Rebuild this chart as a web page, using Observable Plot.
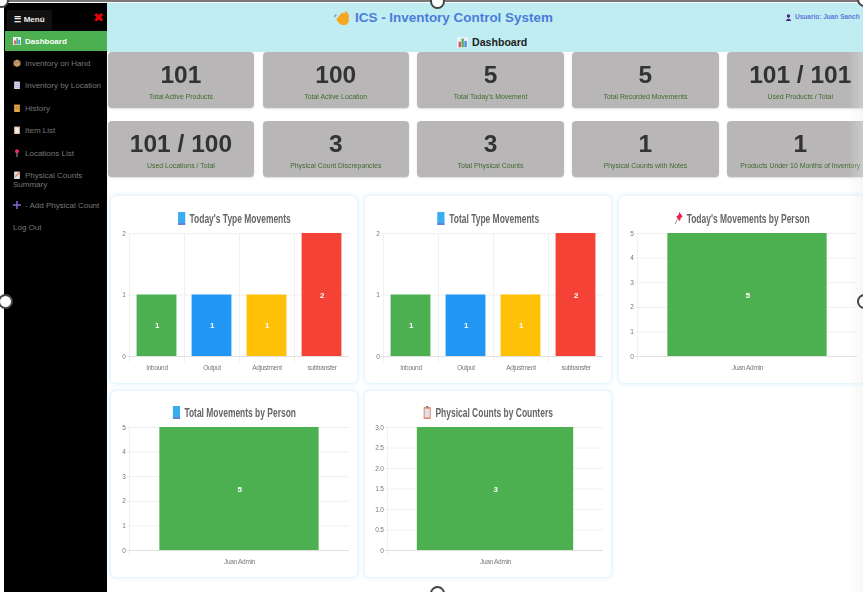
<!DOCTYPE html>
<html><head><meta charset="utf-8">
<script src="https://cdn.jsdelivr.net/npm/d3@7"></script>
<script src="https://cdn.jsdelivr.net/npm/@observablehq/plot@0.6"></script>
<style>
html,body{margin:0;padding:0;background:#fff;width:863px;height:592px;overflow:hidden;font-family:"Liberation Sans",Arial,sans-serif}
#app{position:relative;width:863px;height:592px;overflow:hidden;filter:blur(0.35px)}
#app>*{position:absolute}
#app>div>svg{display:block}
#app>.item>svg{display:inline-block;vertical-align:-1px;margin-right:4px}
.tile{background:#b8b6b6;border-radius:4px;box-shadow:0 1px 2px #ddd;width:146.5px;height:56px;text-align:center}
.tile .n{position:absolute;left:0;right:0;top:9px;font-size:24.5px;line-height:28px;font-weight:700;color:#333}
.tile .l{position:absolute;left:0;right:0;top:40px;font-size:6.9px;line-height:9px;color:#3f6b30;white-space:nowrap}
.card{background:#fff;border-radius:5px;box-shadow:0 0 4px 1px #d6eefb;width:246px}
.card>svg{position:absolute;left:0;top:0;display:block}
.card svg text{letter-spacing:-0.3px}
.ctitle{position:absolute;left:0;right:0;text-align:center;font:700 13px/14px "Liberation Sans",sans-serif;color:#666;white-space:nowrap;transform:scaleX(.65);transform-origin:center}
.ctitle svg{display:inline-block;vertical-align:-2px;margin-right:6px}
.item{position:absolute;left:13px;width:92px;font-size:8px;line-height:9px;color:#777}
.handle{width:11px;height:11px;border-radius:50%;background:#fff;border:2px solid #444;box-sizing:content-box}
</style></head>
<body><div id="app"></div>
<script>
// ---- data ----
const moveTypes = ["Inbound", "Output", "Adjustment", "subtransfer"];
const todayTypeCounts = [1, 1, 1, 2];
const totalTypeCounts = [1, 1, 1, 2];
const typeColors = ["#4CAF50", "#2196F3", "#FFC107", "#F44336"];
const persons = ["Juan Admin"];
const todayByPerson = [5];
const totalByPerson = [5];
const countsByCounter = [3];
const tileValues = ["101","100","5","5","101 / 101","101 / 100","3","3","1","1"];
const tileLabels = ["Total Active Products","Total Active Location","Total Today's Movement","Total Recorded Movements","Used Products / Total","Used Locations / Total","Physical Count Discrepancies","Total Physical Counts","Physical Counts with Notes","Products Under 10 Months of Inventory"];
const menuItems = ["Inventory on Hand","Inventory by Location","History","Item List","Locations List","Physical Counts Summary","- Add Physical Count","Log Out"];
const menuIcons = ["box","doc","scroll","list","loc","note","plus",null];
const menuTops = [59,81,104,126,149,171,201,223];

const app = document.getElementById("app");
function el(cls, css, html){
  const d = document.createElement("div");
  if (cls) d.className = cls;
  d.style.cssText = css;
  if (html != null) d.innerHTML = html;
  return d;
}
// small pictographs (the emoji of the original, no emoji font is installed)
function icon(kind, s){
  const shapes = {
    wave:'<path d="M2 9 L7 3 L9 4 L10 2 L12 3 L13 6 L13 11 Q11 15 7 14 Q4 13 2 9Z" fill="#f5a623"/><path d="M0 7 L2 5" stroke="#5aa0e0" stroke-width="1.2"/>',
    chart:'<rect width="14" height="14" fill="#eef0f4"/><rect x="2" y="6" width="3" height="7" fill="#e6486a"/><rect x="5.7" y="2" width="3" height="11" fill="#47b35c"/><rect x="9.4" y="5" width="3" height="8" fill="#3f8fdc"/>',
    book:'<rect x="1" y="0" width="12" height="14" rx="1" fill="#38aef0"/><rect x="1" y="12" width="12" height="2" fill="#6a7fd0"/>',
    pin:'<path d="M8 0 L14 5 L11 6 L9 10 L3 5 L7 3Z" fill="#e8214f"/><path d="M5 8 L1 13" stroke="#888" stroke-width="1.2"/>',
    clip:'<rect x="1" y="1" width="12" height="13" rx="1" fill="#e5967a"/><rect x="3" y="3" width="8" height="9" fill="#dfe2ee"/><rect x="5" y="0" width="4" height="2" fill="#888"/>',
    box:'<path d="M7 1 L13 4 L13 11 L7 14 L1 11 L1 4Z" fill="#c89a6a"/><path d="M1 4 L7 7 L13 4" stroke="#8a623c" fill="none"/>',
    doc:'<rect x="2" y="1" width="10" height="13" fill="#d9d6ef"/><path d="M4 5H10M4 8H10M4 11H10" stroke="#9a94c8"/>',
    scroll:'<rect x="2" y="1" width="10" height="13" fill="#e3a64a"/><path d="M4 5H10M4 8H10" stroke="#a06a20"/>',
    list:'<rect x="2" y="1" width="10" height="13" fill="#e6c3a8"/><rect x="4" y="3" width="6" height="9" fill="#f2eef2"/>',
    loc:'<circle cx="7" cy="4" r="3.5" fill="#ee2b66"/><path d="M7 7V14" stroke="#c8c8c8" stroke-width="1.4"/>',
    note:'<rect x="2" y="1" width="10" height="13" fill="#e4dcd8"/><path d="M4 10L11 3" stroke="#e8743a" stroke-width="2"/>',
    plus:'<path d="M7 0V14M0 7H14" stroke="#8a66d8" stroke-width="2.6"/>',
    user:'<circle cx="7" cy="4" r="3.4" fill="#4a2a80"/><path d="M1 14Q7 4 13 14Z" fill="#4a2a80"/>'
  };
  return `<svg width="${s}" height="${s}" viewBox="0 0 14 14">${shapes[kind]}</svg>`;
}

// ---- page chrome ----
app.append(el("", "left:107px;top:3px;width:756px;height:49px;background:#bfedf1"));
app.append(el("", "left:334px;top:9px;width:16px;height:16px", icon("wave",16)));
app.append(el("", "left:355px;top:9px;font:700 13.45px/17px 'Liberation Sans';color:#4b7bdb;white-space:nowrap", "ICS - Inventory Control System"));
app.append(el("", "left:785px;top:14px;width:7px;height:7px", icon("user",7)));
app.append(el("", "left:795px;top:13px;font:700 6.5px/8px 'Liberation Sans';color:#5f78dc;white-space:nowrap", "Usuario: Juan Sanch"));
app.append(el("", "left:457px;top:37px;width:11px;height:11px", icon("chart",11)));
app.append(el("", "left:472px;top:36px;font:700 10.6px/13px 'Liberation Sans';color:#222;white-space:nowrap", "Dashboard"));

// sidebar
app.append(el("", "left:4px;top:3px;width:103px;height:589px;background:#000"));
app.append(el("", "left:7px;top:10px;width:45px;height:20px;background:#111;color:#eee;font:700 8px/20px 'Liberation Sans';text-align:center", "☰ Menú"));
app.append(el("", "left:93px;top:10px;color:#e8000b;font:700 13px/16px 'DejaVu Sans'", "✖"));
app.append(el("", "left:5px;top:31px;width:102px;height:20px;background:#4CAF50"));
app.append(el("", "left:13px;top:37px;width:7px;height:8px", icon("chart",8)));
app.append(el("", "left:25px;top:37px;font:700 8px/9px 'Liberation Sans';color:#fff", "Dashboard"));
menuItems.forEach((t,i)=>{
  const ic = menuIcons[i] ? icon(menuIcons[i],8) : "";
  app.append(el("item", `top:${menuTops[i]}px`, ic + t));
});

// ---- tiles ----
const tileXs = [107.7,262.5,417.3,572.2,727];
tileValues.forEach((v,i)=>{
  const t = el("tile", `left:${tileXs[i%5]}px;top:${i<5?52:121}px`,
    `<div class="n">${v}</div><div class="l">${tileLabels[i]}</div>`);
  app.append(t);
});

// ---- charts ----
function barChart({left, top, h, cats, vals, colors, ymax, ticks, fmt, title, ic, mL=18, mT=37}){
  const W = 246, mR = 8, mB = 27;
  const step = (W - mL - mR) / cats.length;
  const inset = step * 0.138;
  const rows = cats.map((c,i)=>({c, v:vals[i], col:colors[i % colors.length]}));
  const svg = Plot.plot({
    width: W, height: h,
    marginLeft: mL, marginRight: mR, marginTop: mT, marginBottom: mB,
    style: {background:"transparent", fontFamily:"'Liberation Sans',sans-serif", fontSize:"6.5px", color:"#777"},
    x: {domain: cats, padding: 0, label: null},
    y: {domain: [0, ymax], label: null},
    marks: [
      Plot.ruleY(ticks, {stroke:"#f0f0f0", strokeWidth:1, insetLeft:-2}),
      Plot.ruleX(cats, {x:d=>d, dx:-step/2, stroke:"#f0f0f0", strokeWidth:1, insetBottom:-6}),
      Plot.ruleY([0], {stroke:"#e0e0e0", strokeWidth:1, insetLeft:-2}),
      Plot.barY(rows, {x:"c", y:"v", fill:"col", insetLeft:inset, insetRight:inset}),
      Plot.text(rows, {x:"c", y:d=>d.v/2, text:d=>String(d.v), fill:"#fff", fontWeight:700, fontSize:8}),
      Plot.axisY({ticks, tickSize:0, tickPadding:4, tickFormat:fmt, label:null}),
      Plot.axisX({tickSize:0, tickPadding:9, label:null})
    ]
  });
  const card = el("card", `left:${left}px;top:${top}px;height:${h}px`);
  card.append(svg);
  card.append(el("ctitle", `top:${mT-21}px`, icon(ic,13) + title));
  app.append(card);
}
const intFmt = d3.format("d"), oneFmt = d => d === 0 ? "0" : d3.format(".1f")(d);
barChart({left:111,top:196,h:187,cats:moveTypes,vals:todayTypeCounts,colors:typeColors,ymax:2,ticks:[0,1,2],fmt:intFmt,title:"Today's Type Movements",ic:"book"});
barChart({left:365,top:196,h:187,cats:moveTypes,vals:totalTypeCounts,colors:typeColors,ymax:2,ticks:[0,1,2],fmt:intFmt,title:"Total Type Movements",ic:"book"});
barChart({left:619,top:196,h:187,cats:persons,vals:todayByPerson,colors:["#4CAF50"],ymax:5,ticks:[0,1,2,3,4,5],fmt:intFmt,title:"Today's Movements by Person",ic:"pin"});
barChart({left:111,top:391,h:186,cats:persons,vals:totalByPerson,colors:["#4CAF50"],ymax:5,ticks:[0,1,2,3,4,5],fmt:intFmt,title:"Total Movements by Person",ic:"book",mT:36});
barChart({left:365,top:391,h:186,cats:persons,vals:countsByCounter,colors:["#4CAF50"],ymax:3,ticks:[0,0.5,1,1.5,2,2.5,3],fmt:oneFmt,title:"Physical Counts by Counters",ic:"clip",mL:22,mT:36});

// right-edge fade and the selection frame of the screenshot
app.append(el("", "left:848px;top:52px;width:15px;height:540px;background:linear-gradient(90deg,rgba(235,235,235,0),rgba(235,235,235,.4))"));
app.append(el("", "left:0;top:0;width:863px;height:2px;background:#777"));
[[430,-6],[-2,294],[857,294],[430,586],[-6,-7],[857,-8]].forEach(([x,y])=>{
  app.append(el("handle", `left:${x}px;top:${y}px`));
});
</script></body></html>
